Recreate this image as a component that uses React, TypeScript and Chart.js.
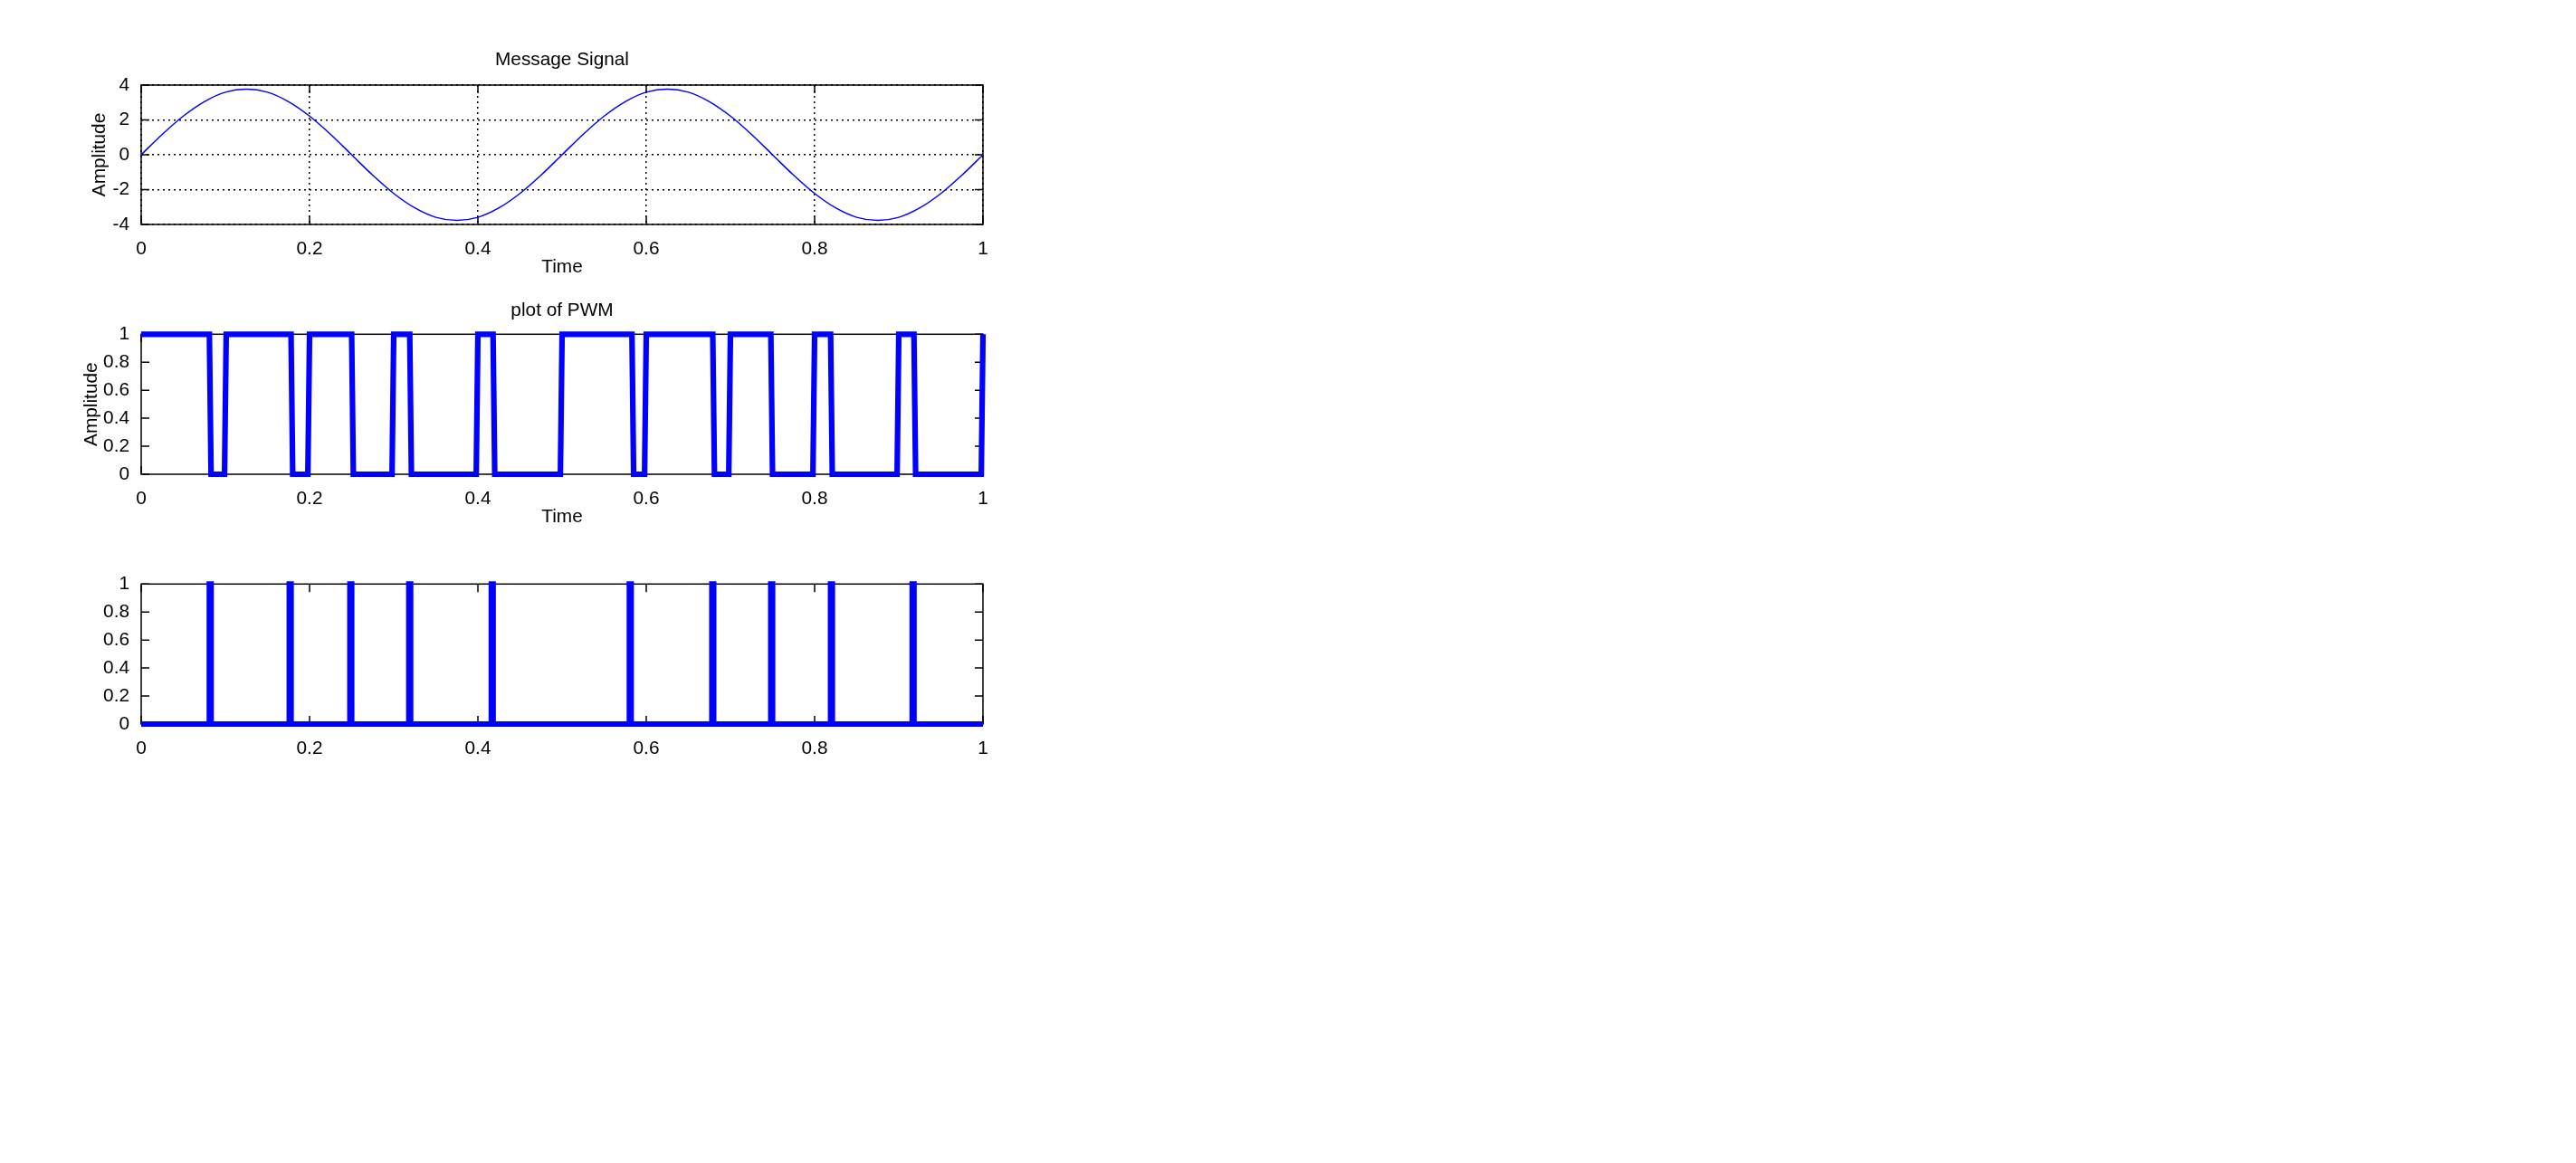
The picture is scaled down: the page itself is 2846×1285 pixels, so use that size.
import React, { useEffect, useRef } from 'react';
import { Chart, registerables } from 'chart.js';

Chart.register(...registerables);

// ---------------- data ----------------
const msgTime = [
  0, 0.025, 0.05, 0.075, 0.1, 0.125, 0.15, 0.175, 0.2, 0.225, 0.25, 0.275, 0.3, 0.325, 0.35, 0.375, 0.4,
  0.425, 0.45, 0.475, 0.5, 0.525, 0.55, 0.575, 0.6, 0.625, 0.65, 0.675, 0.7, 0.725, 0.75, 0.775, 0.8,
  0.825, 0.85, 0.875, 0.9, 0.925, 0.95, 0.975, 1,
];
const msgAmp = [
  0, 1.17, 2.22, 3.05, 3.59, 3.77, 3.59, 3.05, 2.22, 1.17, 0, -1.17, -2.22, -3.05, -3.59, -3.77, -3.59,
  -3.05, -2.22, -1.17, 0, 1.17, 2.22, 3.05, 3.59, 3.77, 3.59, 3.05, 2.22, 1.17, 0, -1.17, -2.22,
  -3.05, -3.59, -3.77, -3.59, -3.05, -2.22, -1.17, 0,
];

const pwmTime = [
  0, 0.081, 0.083, 0.099, 0.101, 0.178, 0.18, 0.198, 0.2, 0.25, 0.252, 0.298, 0.3, 0.319, 0.321,
  0.398, 0.4, 0.418, 0.42, 0.498, 0.5, 0.583, 0.585, 0.598, 0.6, 0.679, 0.681, 0.698, 0.7, 0.748,
  0.75, 0.798, 0.8, 0.819, 0.821, 0.898, 0.9, 0.918, 0.92, 0.998, 1,
];
const pwmLevel = [
  1, 1, 0, 0, 1, 1, 0, 0, 1, 1, 0, 0, 1, 1, 0, 0, 1, 1, 0, 0, 1, 1, 0, 0, 1, 1, 0, 0, 1, 1, 0, 0, 1,
  1, 0, 0, 1, 1, 0, 0, 1,
];

const ppmTime = [
  0, 0.081, 0.081, 0.083, 0.083, 0.176, 0.176, 0.178, 0.178, 0.248, 0.248, 0.25, 0.25, 0.318, 0.318,
  0.32, 0.32, 0.416, 0.416, 0.418, 0.418, 0.58, 0.58, 0.582, 0.582, 0.678, 0.678, 0.68, 0.68, 0.748,
  0.748, 0.75, 0.75, 0.819, 0.819, 0.821, 0.821, 0.916, 0.916, 0.918, 0.918, 1,
];
const ppmLevel = [
  0, 0, 1, 1, 0, 0, 1, 1, 0, 0, 1, 1, 0, 0, 1, 1, 0, 0, 1, 1, 0, 0, 1, 1, 0, 0, 1, 1, 0, 0, 1, 1, 0,
  0, 1, 1, 0, 0, 1, 1, 0, 0,
];

const xTicks = [0, 0.2, 0.4, 0.6, 0.8, 1];
const xTickLabels = ['0', '0.2', '0.4', '0.6', '0.8', '1'];
const msgYTicks = [-4, -2, 0, 2, 4];
const msgYTickLabels = ['-4', '-2', '0', '2', '4'];
const unitYTicks = [0, 0.2, 0.4, 0.6, 0.8, 1];
const unitYTickLabels = ['0', '0.2', '0.4', '0.6', '0.8', '1'];

const panelTitles = ['Message Signal', 'plot of PWM', ''];
const xAxisTitle = 'Time';
const yAxisTitle = 'Amplitude';

// ---------------- styling / layout ----------------
const FONT = "'Liberation Sans', Arial, Helvetica, sans-serif";
const FONT_SIZE = 20.8;
const CANVAS_W = 1200;
const PLOT_LEFT = 156;
const PLOT_RIGHT = 1086;
const TICK_LEN = 9;

const boxPlugin = {
  id: 'matlabBox',
  beforeDatasetsDraw(chart: any) {
    const { ctx, chartArea: a, scales } = chart;
    const xs = scales.x;
    const ys = scales.y;
    ctx.save();
    ctx.strokeStyle = '#000';
    ctx.lineWidth = 1.5;
    ctx.setLineDash([]);
    ctx.beginPath();
    xs.ticks.forEach((t: any) => {
      const px = xs.getPixelForValue(t.value);
      ctx.moveTo(px, a.bottom);
      ctx.lineTo(px, a.bottom - TICK_LEN);
      ctx.moveTo(px, a.top);
      ctx.lineTo(px, a.top + TICK_LEN);
    });
    ys.ticks.forEach((t: any) => {
      const py = ys.getPixelForValue(t.value);
      ctx.moveTo(a.left, py);
      ctx.lineTo(a.left + TICK_LEN, py);
      ctx.moveTo(a.right, py);
      ctx.lineTo(a.right - TICK_LEN, py);
    });
    ctx.stroke();
    ctx.strokeRect(a.left, a.top, a.right - a.left, a.bottom - a.top);
    ctx.restore();
  },
};

type PanelCfg = {
  top: number;
  height: number;
  title: string;
  titlePad: { top: number; bottom: number };
  layoutTop: number;
  xAxisHeight: number;
  xTitlePadBottom: number | null;
  yTitlePadTop: number | null;
  grid: boolean;
  yMin: number;
  yMax: number;
  yTicks: number[];
  yLabels: string[];
  xs: number[];
  ys: number[];
  lineWidth: number;
  smooth: boolean;
};

const panels: PanelCfg[] = [
  {
    top: 0,
    height: 310,
    title: panelTitles[0],
    titlePad: { top: 54, bottom: 15.04 },
    layoutTop: 0,
    xAxisHeight: 62,
    xTitlePadBottom: 2.2,
    yTitlePadTop: 97.5,
    grid: true,
    yMin: -4,
    yMax: 4,
    yTicks: msgYTicks,
    yLabels: msgYTickLabels,
    xs: msgTime,
    ys: msgAmp,
    lineWidth: 1.5,
    smooth: true,
  },
  {
    top: 310,
    height: 280,
    title: panelTitles[1],
    titlePad: { top: 21, bottom: 13.34 },
    layoutTop: 0,
    xAxisHeight: 66,
    xTitlePadBottom: 6.5,
    yTitlePadTop: 89,
    grid: false,
    yMin: 0,
    yMax: 1,
    yTicks: unitYTicks,
    yLabels: unitYTickLabels,
    xs: pwmTime,
    ys: pwmLevel,
    lineWidth: 6.2,
    smooth: false,
  },
  {
    top: 590,
    height: 270,
    title: panelTitles[2],
    titlePad: { top: 0, bottom: 0 },
    layoutTop: 55.3,
    xAxisHeight: 60,
    xTitlePadBottom: null,
    yTitlePadTop: null,
    grid: false,
    yMin: 0,
    yMax: 1,
    yTicks: unitYTicks,
    yLabels: unitYTickLabels,
    xs: ppmTime,
    ys: ppmLevel,
    lineWidth: 6.2,
    smooth: false,
  },
];

function PanelChart({ cfg }: { cfg: PanelCfg }) {
  const ref = useRef<HTMLCanvasElement | null>(null);

  useEffect(() => {
    if (!ref.current) return;
    const font = { family: FONT, size: FONT_SIZE, weight: 'normal' as const };
    const chart = new Chart(ref.current, {
      type: 'line',
      data: {
        datasets: [
          {
            data: cfg.xs.map((x, i) => ({ x, y: cfg.ys[i] })),
            borderColor: '#0000ff',
            backgroundColor: '#0000ff',
            borderWidth: cfg.lineWidth,
            pointRadius: 0,
            fill: false,
            cubicInterpolationMode: cfg.smooth ? 'monotone' : 'default',
            tension: 0,
            clip: cfg.smooth ? undefined : (false as any),
            borderJoinStyle: 'miter',
          } as any,
        ],
      },
      options: {
        animation: false,
        responsive: false,
        devicePixelRatio: 1,
        events: [],
        layout: {
          padding: { left: 0, right: CANVAS_W - PLOT_RIGHT, top: cfg.layoutTop, bottom: 0 },
        },
        plugins: {
          legend: { display: false },
          tooltip: { enabled: false },
          title: {
            display: cfg.title !== '',
            text: cfg.title,
            color: '#000',
            font,
            fullSize: false,
            padding: cfg.titlePad,
          },
        },
        scales: {
          x: {
            type: 'linear',
            min: 0,
            max: 1,
            afterBuildTicks: (scale: any) => {
              scale.ticks = xTicks.map((v) => ({ value: v }));
            },
            afterFit: (scale: any) => {
              scale.height = cfg.xAxisHeight;
            },
            ticks: {
              color: '#000',
              font,
              padding: 14.6,
              autoSkip: false,
              maxRotation: 0,
              minRotation: 0,
              callback: (_v: any, i: number) => xTickLabels[i],
            },
            grid: {
              display: cfg.grid,
              drawTicks: false,
              color: '#000',
              lineWidth: 1.5,
            },
            border: { display: false, dash: [2, 4] },
            title: {
              display: cfg.xTitlePadBottom !== null,
              text: xAxisTitle,
              color: '#000',
              font,
              padding: { top: 0, bottom: cfg.xTitlePadBottom ?? 0 },
            },
          },
          y: {
            type: 'linear',
            min: cfg.yMin,
            max: cfg.yMax,
            afterBuildTicks: (scale: any) => {
              scale.ticks = cfg.yTicks.map((v) => ({ value: v }));
            },
            afterFit: (scale: any) => {
              scale.width = PLOT_LEFT;
            },
            ticks: {
              color: '#000',
              font,
              padding: 13,
              autoSkip: false,
              callback: (_v: any, i: number) => cfg.yLabels[i],
            },
            grid: {
              display: cfg.grid,
              drawTicks: false,
              color: '#000',
              lineWidth: 1.5,
            },
            border: { display: false, dash: [2, 4] },
            title: {
              display: cfg.yTitlePadTop !== null,
              text: yAxisTitle,
              color: '#000',
              font,
              padding: { top: cfg.yTitlePadTop ?? 0, bottom: 0 },
            },
          },
        },
      },
      plugins: [boxPlugin],
    } as any);
    return () => chart.destroy();
  }, [cfg]);

  return (
    <canvas
      ref={ref}
      width={CANVAS_W}
      height={cfg.height}
      style={{ position: 'absolute', left: 0, top: cfg.top, width: CANVAS_W, height: cfg.height }}
    />
  );
}

export default function App() {
  return (
    <div
      style={{
        position: 'absolute',
        left: 0,
        top: 0,
        width: 2846,
        height: 1285,
        background: '#fff',
        overflow: 'hidden',
      }}
    >
      {panels.map((p, i) => (
        <PanelChart key={i} cfg={p} />
      ))}
    </div>
  );
}
